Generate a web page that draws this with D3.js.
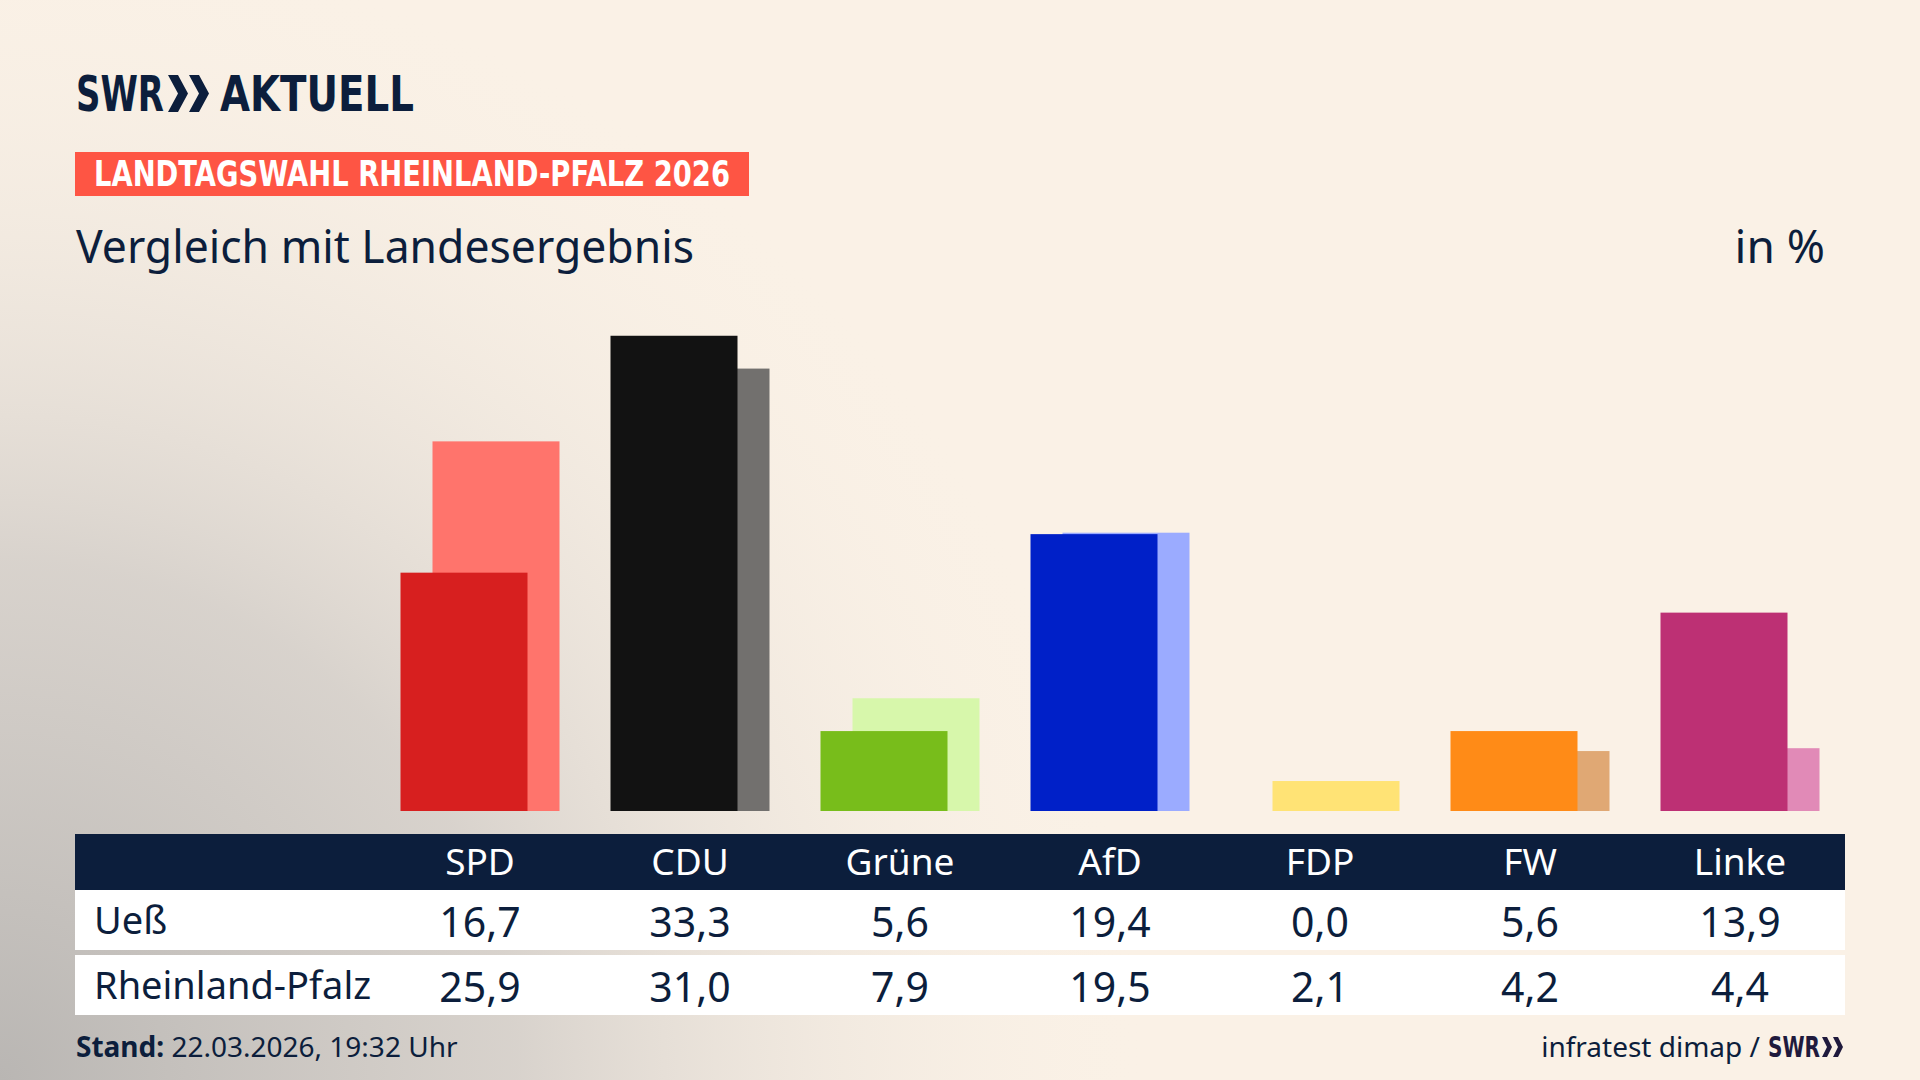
<!DOCTYPE html>
<html>
<head>
<meta charset="utf-8">
<script src="https://cdn.jsdelivr.net/npm/d3@7"></script>
<style>
  html, body { margin: 0; padding: 0; background: #faf1e6; }
  svg { display: block; }
</style>
</head>
<body>
<div id="chart"></div>
<script>
var parties = ["SPD", "CDU", "Grüne", "AfD", "FDP", "FW", "Linke"];
var uess = [16.7, 33.3, 5.6, 19.4, 0.0, 5.6, 13.9];
var land = [25.9, 31.0, 7.9, 19.5, 2.1, 4.2, 4.4];
var rowLabels = ["Ueß", "Rheinland-Pfalz"];
var mainColors = ["#d71f1f", "#121212", "#78bd1b", "#0020c8", "#ffe000", "#ff8b17", "#bd3074"];
var lightColors = ["#ff746c", "#72706e", "#d7f7ab", "#9babff", "#ffe375", "#e0a874", "#e18ab7"];

var W = 1920, H = 1080;
var navy = "#0c1e3c";
var bodyFont = "'Noto Sans', 'Open Sans', sans-serif";
var condFont = "'DejaVu Sans Condensed', 'Liberation Sans Narrow', 'Noto Sans', sans-serif";

var svg = d3.select("#chart").append("svg")
    .attr("width", W).attr("height", H);

var defs = svg.append("defs");
var grad = defs.append("radialGradient")
    .attr("id", "shade")
    .attr("gradientUnits", "userSpaceOnUse")
    .attr("cx", 0).attr("cy", H).attr("r", 1150);
grad.append("stop").attr("offset", 0).attr("stop-color", "#b9b6b3").attr("stop-opacity", 1);
grad.append("stop").attr("offset", 0.45).attr("stop-color", "#d2cdc8").attr("stop-opacity", 0.85);
grad.append("stop").attr("offset", 1).attr("stop-color", "#faf1e6").attr("stop-opacity", 0);

svg.append("rect").attr("width", W).attr("height", H).attr("fill", "#faf1e6");
svg.append("rect").attr("width", W).attr("height", H).attr("fill", "url(#shade)");

// logo
var logo = svg.append("g");
logo.append("text")
    .attr("x", 76).attr("y", 111)
    .attr("font-family", condFont).attr("font-weight", "bold")
    .attr("font-size", 50).attr("fill", navy)
    .attr("textLength", 88).attr("lengthAdjust", "spacingAndGlyphs")
    .text("SWR");

function chevron(g, x, top, w, h, color) {
    var t = w * 0.5;
    g.append("path")
        .attr("d", "M" + x + "," + top + " L" + (x + t) + "," + top +
            " L" + (x + w) + "," + (top + h / 2) + " L" + (x + t) + "," + (top + h) +
            " L" + x + "," + (top + h) + " L" + (x + w - t) + "," + (top + h / 2) + " Z")
        .attr("fill", color);
}
chevron(logo, 168, 75, 20, 37, navy);
chevron(logo, 189, 75, 20, 37, navy);

logo.append("text")
    .attr("x", 220).attr("y", 111)
    .attr("font-family", condFont).attr("font-weight", "bold")
    .attr("font-size", 50).attr("fill", navy)
    .attr("textLength", 194).attr("lengthAdjust", "spacingAndGlyphs")
    .text("AKTUELL");

// red banner
svg.append("rect")
    .attr("x", 75).attr("y", 152).attr("width", 674).attr("height", 44)
    .attr("fill", "#fe5544");
svg.append("text")
    .attr("x", 94).attr("y", 186)
    .attr("font-family", condFont).attr("font-weight", "bold")
    .attr("font-size", 35).attr("fill", "#ffffff")
    .attr("textLength", 636).attr("lengthAdjust", "spacingAndGlyphs")
    .text("LANDTAGSWAHL RHEINLAND-PFALZ 2026");

// subtitle
svg.append("text")
    .attr("x", 76).attr("y", 263)
    .attr("font-family", bodyFont).attr("font-size", 46).attr("fill", navy)
    .attr("textLength", 618).attr("lengthAdjust", "spacingAndGlyphs")
    .text("Vergleich mit Landesergebnis");
svg.append("text")
    .attr("x", 1825).attr("y", 263).attr("text-anchor", "end")
    .attr("font-family", bodyFont).attr("font-size", 46).attr("fill", navy)
    .text("in %");

// scales
var x = d3.scaleBand().domain(parties).range([375, 1845]);
var y = d3.scaleLinear().domain([0, 35]).range([811, 311.5]);
var barW = 127, shift = 32;

function left(p) { return x(p) + x.bandwidth() / 2 - (barW + shift) / 2; }
function cx(p) { return x(p) + x.bandwidth() / 2; }

var bars = svg.append("g");
// state result behind, shifted right
bars.selectAll("rect.land")
    .data(parties)
    .enter().append("rect")
    .attr("class", "land")
    .attr("x", function (d) { return left(d) + shift; })
    .attr("width", barW)
    .attr("y", function (d, i) { return y(land[i]); })
    .attr("height", function (d, i) { return y(0) - y(land[i]); })
    .attr("fill", function (d, i) { return lightColors[i]; });

// local result in front
bars.selectAll("rect.uess")
    .data(parties)
    .enter().append("rect")
    .attr("class", "uess")
    .attr("x", function (d) { return left(d); })
    .attr("width", barW)
    .attr("y", function (d, i) { return y(uess[i]); })
    .attr("height", function (d, i) { return y(0) - y(uess[i]); })
    .attr("fill", function (d, i) { return mainColors[i]; });

// table
var table = svg.append("g");
table.append("rect")
    .attr("x", 75).attr("y", 834).attr("width", 1770).attr("height", 56)
    .attr("fill", navy);
table.selectAll("text.head")
    .data(parties)
    .enter().append("text")
    .attr("class", "head")
    .attr("x", function (d) { return cx(d); })
    .attr("y", 875)
    .attr("text-anchor", "middle")
    .attr("font-family", bodyFont).attr("font-size", 37).attr("fill", "#ffffff")
    .text(function (d) { return d; });

var rows = [uess, land];
var fmt = function (v) { return d3.format(".1f")(v).replace(".", ","); };

rows.forEach(function (vals, r) {
    var top = 890 + r * 65;
    table.append("rect")
        .attr("x", 75).attr("y", top).attr("width", 1770).attr("height", 60)
        .attr("fill", "#ffffff");
    table.append("text")
        .attr("x", 94).attr("y", top + 44)
        .attr("font-family", bodyFont).attr("font-size", 38).attr("fill", navy)
        .text(rowLabels[r]);
    table.selectAll("text.v" + r)
        .data(parties)
        .enter().append("text")
        .attr("class", "v" + r)
        .attr("x", function (d) { return cx(d); })
        .attr("y", top + 47)
        .attr("text-anchor", "middle")
        .attr("font-family", bodyFont).attr("font-size", 41).attr("fill", navy)
        .text(function (d, i) { return fmt(vals[i]); });
});

// footer
var foot = svg.append("text")
    .attr("x", 76).attr("y", 1057)
    .attr("font-family", bodyFont).attr("font-size", 28).attr("fill", navy);
foot.append("tspan").attr("font-weight", "bold").text("Stand:");
foot.append("tspan").text(" 22.03.2026, 19:32 Uhr");

var src = svg.append("g");
src.append("text")
    .attr("x", 1760).attr("y", 1057).attr("text-anchor", "end")
    .attr("font-family", bodyFont).attr("font-size", 28).attr("fill", navy)
    .text("infratest dimap /");
src.append("text")
    .attr("x", 1768).attr("y", 1057).attr("text-anchor", "start")
    .attr("font-family", condFont).attr("font-weight", "bold")
    .attr("font-size", 28).attr("fill", "#1f1a3d")
    .attr("textLength", 52).attr("lengthAdjust", "spacingAndGlyphs")
    .text("SWR");
chevron(src, 1822, 1037, 10, 20, "#1f1a3d");
chevron(src, 1833, 1037, 10, 20, "#1f1a3d");
</script>
</body>
</html>
